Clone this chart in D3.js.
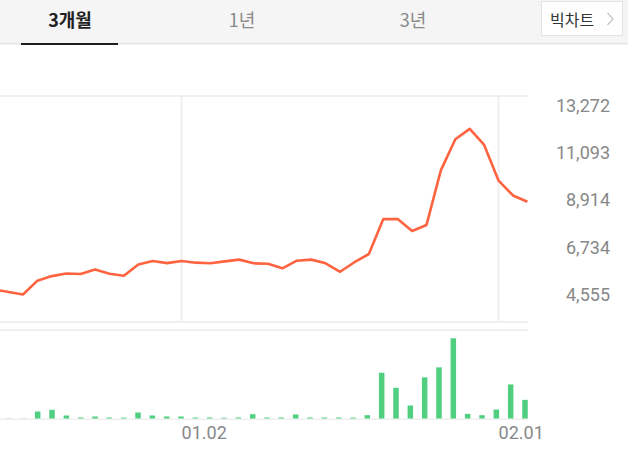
<!DOCTYPE html>
<html><head><meta charset="utf-8">
<script src="https://cdn.jsdelivr.net/npm/d3@7"></script>
<style>
html,body{margin:0;padding:0;background:#fff;}
svg{display:block;}
</style></head>
<body>
<svg id="c" width="628" height="458"></svg>
<script>
const tabs = ["3개월", "1년", "3년"];
const buttonLabel = "빅차트";
const dates = ["12.11","12.12","12.13","12.14","12.15","12.18","12.19","12.20","12.21","12.22","12.26","12.27","12.28",
  "01.02","01.03","01.04","01.05","01.08","01.09","01.10","01.11","01.12","01.15","01.16","01.17","01.18","01.19",
  "01.22","01.23","01.24","01.25","01.26","01.29","01.30","01.31","02.01","02.02","02.05"];
const prices = [4760,4650,4530,5170,5380,5500,5480,5690,5490,5400,5920,6080,5980,
  6080,6000,5970,6060,6140,5970,5950,5740,6090,6140,5970,5580,6020,6400,
  8010,8010,7460,7740,10270,11690,12170,11430,9780,9100,8810];
const volumes = [0,20000,20000,700000,870000,300000,100000,200000,100000,90000,600000,300000,200000,
  200000,100000,100000,80000,100000,430000,100000,100000,400000,100000,100000,100000,90000,330000,
  4560000,3060000,1300000,4100000,5100000,8000000,460000,330000,900000,3400000,1860000];
const priceTicks = [4555, 6734, 8914, 11093, 13272];
const dateTicks = ["01.02", "02.01"];

const svg = d3.select("#c");
const font = "Roboto, 'Noto Sans', sans-serif";
const kfont = "'Noto Sans CJK KR', 'Noto Sans', sans-serif";

// header
svg.append("rect").attr("x",0).attr("y",0).attr("width",628).attr("height",44).attr("fill","#f5f5f5");
svg.append("rect").attr("x",0).attr("y",43).attr("width",628).attr("height",1.5).attr("fill","#e4e4e4");
const tabX = [70, 242, 413];
svg.selectAll("text.tab").data(tabs).enter().append("text")
  .attr("class","tab")
  .attr("x",(d,i)=>tabX[i]).attr("y",19)
  .attr("dominant-baseline","central").attr("text-anchor","middle")
  .attr("font-family",kfont).attr("font-size",18)
  .attr("font-weight",(d,i)=>i===0?"bold":"normal")
  .attr("fill",(d,i)=>i===0?"#222":"#8a8a8a")
  .text(d=>d);
svg.append("rect").attr("x",21).attr("y",43).attr("width",97).attr("height",2).attr("fill","#1e1e1e");
svg.append("rect").attr("x",541.5).attr("y",1.5).attr("width",81).attr("height",34)
  .attr("fill","#fff").attr("stroke","#e3e3e3");
svg.append("text").attr("x",550).attr("y",18.5).attr("dominant-baseline","central")
  .attr("font-family",kfont).attr("font-size",16).attr("fill","#333").text(buttonLabel);
svg.append("path").attr("d","M607.5,13 L613,19 L607.5,25").attr("fill","none")
  .attr("stroke","#c4c4c4").attr("stroke-width",1.3);

// scales
const x = d3.scaleLinear().domain([0, prices.length-1]).range([-5.8, 527.4]);
const y = d3.scaleLinear().domain([4555, 13272]).range([294, 105]);
const vx = d3.scaleLinear().domain([0, volumes.length-1]).range([-5.3, 525]);
const vy = d3.scaleLinear().domain([0, 8000000]).range([418.5, 338.3]);

const grid = "#efefef";
// price area grid
svg.append("rect").attr("x",0).attr("y",95).attr("width",527.5).attr("height",2).attr("fill",grid);
svg.append("rect").attr("x",0).attr("y",321).attr("width",527.5).attr("height",2).attr("fill",grid);
dateTicks.forEach(d=>{
  const xi = x(dates.indexOf(d));
  svg.append("rect").attr("x",xi-1).attr("y",96).attr("width",2).attr("height",226).attr("fill",grid);
});
// volume area grid
svg.append("rect").attr("x",0).attr("y",329).attr("width",527.5).attr("height",2).attr("fill",grid);
svg.append("rect").attr("x",0).attr("y",418.5).attr("width",527.5).attr("height",1.5).attr("fill",grid);

// clip
svg.append("clipPath").attr("id","clip").append("rect").attr("x",0).attr("y",90).attr("width",530).attr("height",340);

// price line
const line = d3.line().x((d,i)=>x(i)).y(d=>y(d));
svg.append("path").datum(prices).attr("d",line).attr("clip-path","url(#clip)")
  .attr("fill","none").attr("stroke","#ff6340").attr("stroke-width",2.6)
  .attr("stroke-linejoin","round");

// volume bars
svg.append("g").attr("clip-path","url(#clip)").selectAll("rect").data(volumes).enter().append("rect")
  .attr("x",(d,i)=>vx(i)-2.75).attr("width",5.5)
  .attr("y",d=>vy(d)).attr("height",d=>vy(0)-vy(d))
  .attr("fill","#4fcf7f");

// price axis
const ya = svg.append("g").attr("transform","translate(610,0)")
  .call(d3.axisLeft(y).tickValues(priceTicks).tickSize(0).tickPadding(0).tickFormat(d3.format(",")));
ya.select(".domain").remove();
ya.selectAll("text").attr("font-family",font).attr("font-size",18).attr("fill","#888").attr("dy","0.35em");

// date axis
const xa = svg.append("g").attr("transform","translate(0,420)")
  .call(d3.axisBottom(x).tickValues(dateTicks.map(d=>dates.indexOf(d))).tickSize(0).tickPadding(0)
    .tickFormat(i=>dates[i]));
xa.select(".domain").remove();
xa.selectAll("text").attr("font-family",font).attr("font-size",18).attr("fill","#888")
  .attr("text-anchor","start").attr("y",12.5).attr("dy","0.35em").attr("dx",-0.5);
</script>
</body></html>
